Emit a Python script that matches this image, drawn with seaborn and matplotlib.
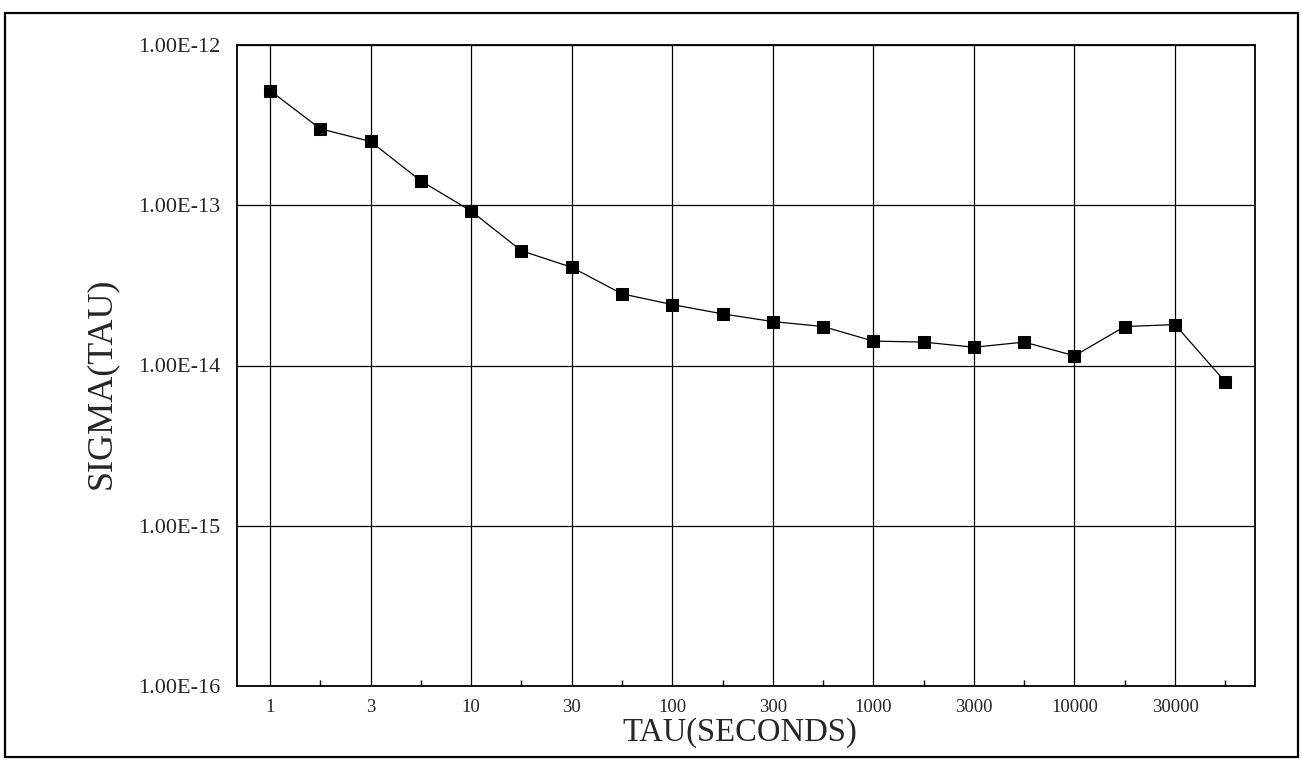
import numpy as np
import matplotlib
matplotlib.use("Agg")
import matplotlib.pyplot as plt
from matplotlib.patches import Rectangle
from matplotlib.ticker import FixedLocator, FixedFormatter, FuncFormatter, NullLocator
import seaborn as sns

# ---- data ----
tau_labels = ["1", "2", "3", "5", "10", "20", "30", "50", "100", "200", "300", "500",
              "1000", "2000", "3000", "5000", "10000", "20000", "30000", "50000"]
sigma = [5.2e-13, 3.0e-13, 2.5e-13, 1.42e-13, 9.2e-14, 5.2e-14, 4.1e-14, 2.8e-14,
         2.4e-14, 2.1e-14, 1.88e-14, 1.75e-14, 1.42e-14, 1.4e-14, 1.3e-14, 1.4e-14,
         1.15e-14, 1.75e-14, 1.8e-14, 7.9e-15]
shown_tick_labels = ["1", "3", "10", "30", "100", "300", "1000", "3000", "10000", "30000"]
y_decades = [1e-16, 1e-15, 1e-14, 1e-13, 1e-12]

sns.set_style("white")
plt.rcParams["font.family"] = ["Liberation Serif", "DejaVu Serif"]

W, H = 1302, 764
fig = plt.figure(figsize=(W / 100, H / 100), dpi=100)
L, R, T, B = 237, 1255, 45, 686
ax = fig.add_axes([L / W, 1 - B / H, (R - L) / W, (B - T) / H])

pos = np.arange(len(tau_labels))
sns.lineplot(x=pos, y=sigma, ax=ax, color="black", linewidth=0.9,
             marker="s", markersize=8, markeredgecolor="black",
             markerfacecolor="black", zorder=5)

ax.set_yscale("log")
ax.set_ylim(1e-16, 1e-12)
ax.set_xlim(-0.656, 19.59)

# y ticks
ax.yaxis.set_major_locator(FixedLocator(y_decades))
ax.yaxis.set_major_formatter(FuncFormatter(lambda v, p: f"{v:.2E}"))
ax.yaxis.set_minor_locator(NullLocator())

# x ticks: labelled at even positions, small inward ticks at odd ones
major_pos = [i for i, t in enumerate(tau_labels) if t in shown_tick_labels]
minor_pos = [i for i, t in enumerate(tau_labels) if t not in shown_tick_labels]
ax.xaxis.set_major_locator(FixedLocator(major_pos))
ax.xaxis.set_major_formatter(FixedFormatter(shown_tick_labels))
ax.xaxis.set_minor_locator(FixedLocator(minor_pos))

ax.tick_params(axis="y", which="major", length=0, pad=12, labelsize=16)
ax.tick_params(axis="x", which="major", length=0, pad=9, labelsize=13.5)
ax.tick_params(axis="x", which="minor", direction="in", length=4, width=1, color="black")
ax.tick_params(axis="x", which="minor", bottom=True)

ax.grid(True, which="major", color="black", linewidth=0.9)
for s in ax.spines.values():
    s.set_color("black")
    s.set_linewidth(1.3)

ax.set_xlabel("TAU(SECONDS)", fontsize=23.5)
ax.set_ylabel("SIGMA(TAU)", fontsize=26)
ax.xaxis.set_label_coords(0.494, -0.048)
ax.yaxis.set_label_coords(-0.117, 0.473)

# outer frame
fig.patches.append(Rectangle((5 / W, 1 - 757 / H), (1298 - 5) / W, (757 - 13) / H,
                             transform=fig.transFigure, fill=False,
                             edgecolor="black", linewidth=1.6))

fig.savefig("out.png", dpi=100)
